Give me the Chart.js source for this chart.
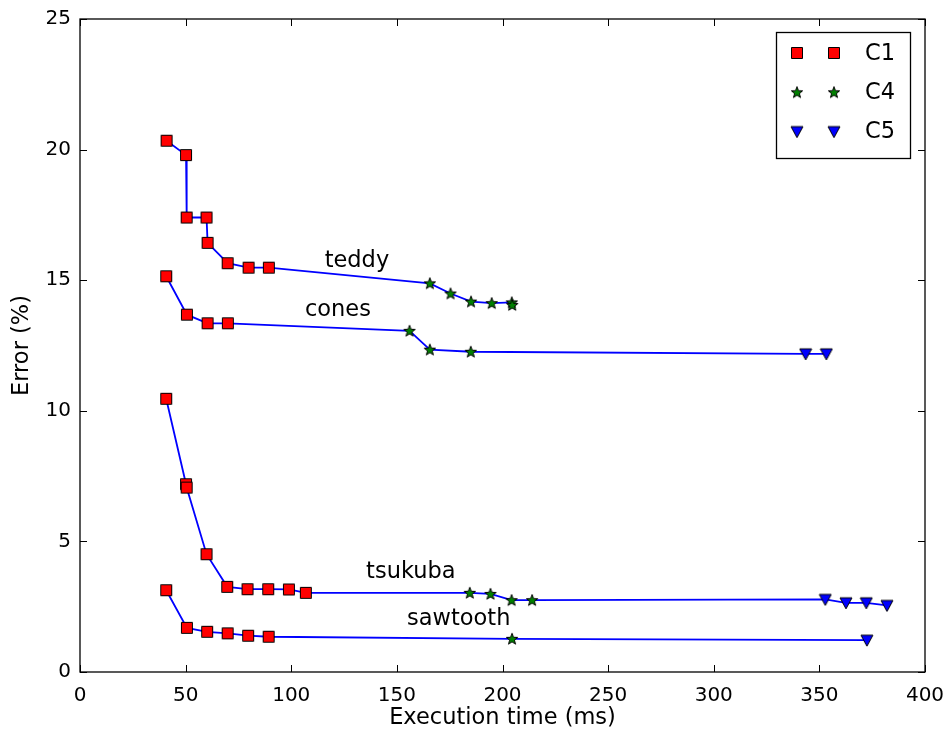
<!DOCTYPE html>
<html>
<head>
<meta charset="utf-8">
<script src="https://cdn.jsdelivr.net/npm/chart.js@4.4.1/dist/chart.umd.min.js"></script>
<style>
  html, body { margin: 0; padding: 0; background: #fff; }
  #wrap { width: 946px; height: 732px; }
</style>
</head>
<body>
<div id="wrap"><canvas id="chart" width="946" height="732"></canvas></div>
<script>
// data kurva: waktu eksekusi (ms), error (%), konfigurasi tiap titik
const teddyTime  = [41.0, 50.2, 50.5, 59.9, 60.4, 69.9, 79.8, 89.4, 165.6, 175.4, 185.1, 194.9, 204.4, 204.6];
const teddyError = [20.34, 19.79, 17.40, 17.40, 16.43, 15.65, 15.48, 15.48, 14.88, 14.49, 14.18, 14.12, 14.15, 14.05];
const teddyConf  = ["C1", "C1", "C1", "C1", "C1", "C1", "C1", "C1", "C4", "C4", "C4", "C4", "C4", "C4"];

const conesTime  = [40.8, 50.6, 60.4, 70.0, 156.0, 165.6, 185.0, 343.5, 353.3];
const conesError = [15.15, 13.68, 13.35, 13.35, 13.06, 12.34, 12.26, 12.18, 12.18];
const conesConf  = ["C1", "C1", "C1", "C1", "C4", "C4", "C4", "C5", "C5"];

const tsukubaTime  = [40.8, 50.2, 50.5, 59.9, 69.7, 79.3, 89.1, 98.9, 106.9, 184.5, 194.3, 204.3, 214.0, 352.8, 362.6, 372.2, 382.0];
const tsukubaError = [10.46, 7.19, 7.06, 4.51, 3.26, 3.17, 3.17, 3.16, 3.03, 3.03, 2.99, 2.75, 2.75, 2.78, 2.65, 2.65, 2.55];
const tsukubaConf  = ["C1", "C1", "C1", "C1", "C1", "C1", "C1", "C1", "C1", "C4", "C4", "C4", "C4", "C5", "C5", "C5", "C5"];

const sawtoothTime  = [40.8, 50.6, 60.2, 69.9, 79.6, 89.3, 204.5, 372.5];
const sawtoothError = [3.13, 1.69, 1.54, 1.48, 1.39, 1.35, 1.27, 1.22];
const sawtoothConf  = ["C1", "C1", "C1", "C1", "C1", "C1", "C4", "C5"];

const configNames = ["C1", "C4", "C5"];
const curveNames = ["teddy", "cones", "tsukuba", "sawtooth"];
const labelX = [131.1, 122.1, 156.6, 179.3];
const labelY = [15.71, 13.87, 3.84, 2.04];

const xTicks = [0, 50, 100, 150, 200, 250, 300, 350, 400];
const yTicks = [0, 5, 10, 15, 20, 25];

const FONT = "'DejaVu Sans', sans-serif";

// bikin gambar marker ala matplotlib
function makeMarker(kind, fill) {
  const c = document.createElement("canvas");
  c.width = 14; c.height = 14;
  const g = c.getContext("2d");
  g.fillStyle = fill;
  g.strokeStyle = "#000";
  g.lineWidth = 1;
  g.beginPath();
  if (kind === "square") {
    g.rect(1.5, 1.5, 11, 11);
  } else if (kind === "star") {
    for (let i = 0; i < 10; i++) {
      const r = i % 2 === 0 ? 6 : 2.5;
      const a = -Math.PI / 2 + i * Math.PI / 5;
      const px = 7 + r * Math.cos(a), py = 7.4 + r * Math.sin(a);
      if (i === 0) g.moveTo(px, py); else g.lineTo(px, py);
    }
    g.closePath();
  } else {
    g.moveTo(1, 2); g.lineTo(13, 2); g.lineTo(7, 13); g.closePath();
  }
  g.fill();
  g.stroke();
  return c;
}
const markers = {
  C1: makeMarker("square", "#ff0000"),
  C4: makeMarker("star", "#008000"),
  C5: makeMarker("tri", "#0000ff")
};

const curves = [
  [teddyTime, teddyError, teddyConf],
  [conesTime, conesError, conesConf],
  [tsukubaTime, tsukubaError, tsukubaConf],
  [sawtoothTime, sawtoothError, sawtoothConf]
];

const datasets = [];
// marker per konfigurasi (di atas garis)
configNames.forEach(function (cn) {
  const pts = [];
  curves.forEach(function (cv) {
    cv[2].forEach(function (c, i) {
      if (c === cn) pts.push({ x: cv[0][i], y: cv[1][i] });
    });
  });
  datasets.push({
    label: cn,
    data: pts,
    showLine: false,
    pointStyle: markers[cn],
    pointRadius: 7,
    order: 0
  });
});
// garis biru tiap kurva
curves.forEach(function (cv, k) {
  datasets.push({
    label: curveNames[k],
    data: cv[0].map(function (x, i) { return { x: x, y: cv[1][i] }; }),
    showLine: true,
    borderColor: "#0000ff",
    borderWidth: 1.8,
    pointRadius: 0,
    order: 1
  });
});

// bingkai, tick ke dalam, label kurva, legenda
const decor = {
  id: "decor",
  afterDatasetsDraw(chart) {
    const ctx = chart.ctx;
    const a = chart.chartArea;
    const xs = chart.scales.x, ys = chart.scales.y;
    ctx.save();
    ctx.strokeStyle = "#000";
    ctx.lineWidth = 1;
    ctx.beginPath();
    xTicks.forEach(function (v) {
      const p = Math.round(xs.getPixelForValue(v)) + 0.5;
      ctx.moveTo(p, a.bottom); ctx.lineTo(p, a.bottom - 7);
      ctx.moveTo(p, a.top); ctx.lineTo(p, a.top + 7);
    });
    yTicks.forEach(function (v) {
      const p = Math.round(ys.getPixelForValue(v)) + 0.5;
      ctx.moveTo(a.left, p); ctx.lineTo(a.left + 7, p);
      ctx.moveTo(a.right, p); ctx.lineTo(a.right - 7, p);
    });
    ctx.stroke();
    ctx.lineWidth = 1.3;
    ctx.strokeRect(a.left, a.top, a.right - a.left, a.bottom - a.top);

    ctx.fillStyle = "#000";
    ctx.font = "22.5px " + FONT;
    ctx.textAlign = "center";
    ctx.textBaseline = "middle";
    curveNames.forEach(function (n, i) {
      ctx.fillText(n, xs.getPixelForValue(labelX[i]), ys.getPixelForValue(labelY[i]));
    });

    // legenda
    const bx = 776, by = 32, bw = 134, bh = 126;
    ctx.fillStyle = "#fff";
    ctx.fillRect(bx, by, bw, bh);
    ctx.lineWidth = 1.3;
    ctx.strokeRect(bx + 0.5, by + 0.5, bw, bh);
    ctx.font = "22.5px " + FONT;
    ctx.textAlign = "left";
    configNames.forEach(function (cn, i) {
      const cy = 53 + i * 39.3;
      const img = markers[cn];
      ctx.drawImage(img, 797 - 7, cy - 7);
      ctx.drawImage(img, 834 - 7, cy - 7);
      ctx.fillStyle = "#000";
      ctx.fillText(cn, 865, cy + 1);
    });
    ctx.restore();
  }
};

new Chart(document.getElementById("chart"), {
  type: "scatter",
  data: { datasets: datasets },
  options: {
    responsive: false,
    animation: false,
    layout: { padding: { top: 19, right: 21, left: 0, bottom: 0 } },
    plugins: {
      legend: { display: false },
      tooltip: { enabled: false }
    },
    scales: {
      x: {
        type: "linear",
        min: 0,
        max: 400,
        afterFit: function (s) { s.height = 60; s.paddingRight = 0; s.paddingLeft = 0; },
        afterBuildTicks: function (s) { s.ticks = xTicks.map(function (v) { return { value: v }; }); },
        grid: { display: false, drawTicks: false },
        border: { display: false },
        ticks: { color: "#000", padding: 12, maxRotation: 0, font: { family: FONT, size: 20 } },
        title: {
          display: true,
          text: "Execution time (ms)",
          color: "#000",
          padding: { top: 0, bottom: 0 },
          font: { family: FONT, size: 22.5 }
        }
      },
      y: {
        type: "linear",
        min: 0,
        max: 25,
        afterFit: function (s) { s.width = 80; s.paddingTop = 0; s.paddingBottom = 0; },
        afterBuildTicks: function (s) { s.ticks = yTicks.map(function (v) { return { value: v }; }); },
        grid: { display: false, drawTicks: false },
        border: { display: false },
        ticks: { color: "#000", padding: 9, font: { family: FONT, size: 20 } },
        title: {
          display: true,
          text: "Error (%)",
          color: "#000",
          padding: { top: 8.5, bottom: 0 },
          font: { family: FONT, size: 22.5 }
        }
      }
    }
  },
  plugins: [decor]
});
</script>
</body>
</html>
